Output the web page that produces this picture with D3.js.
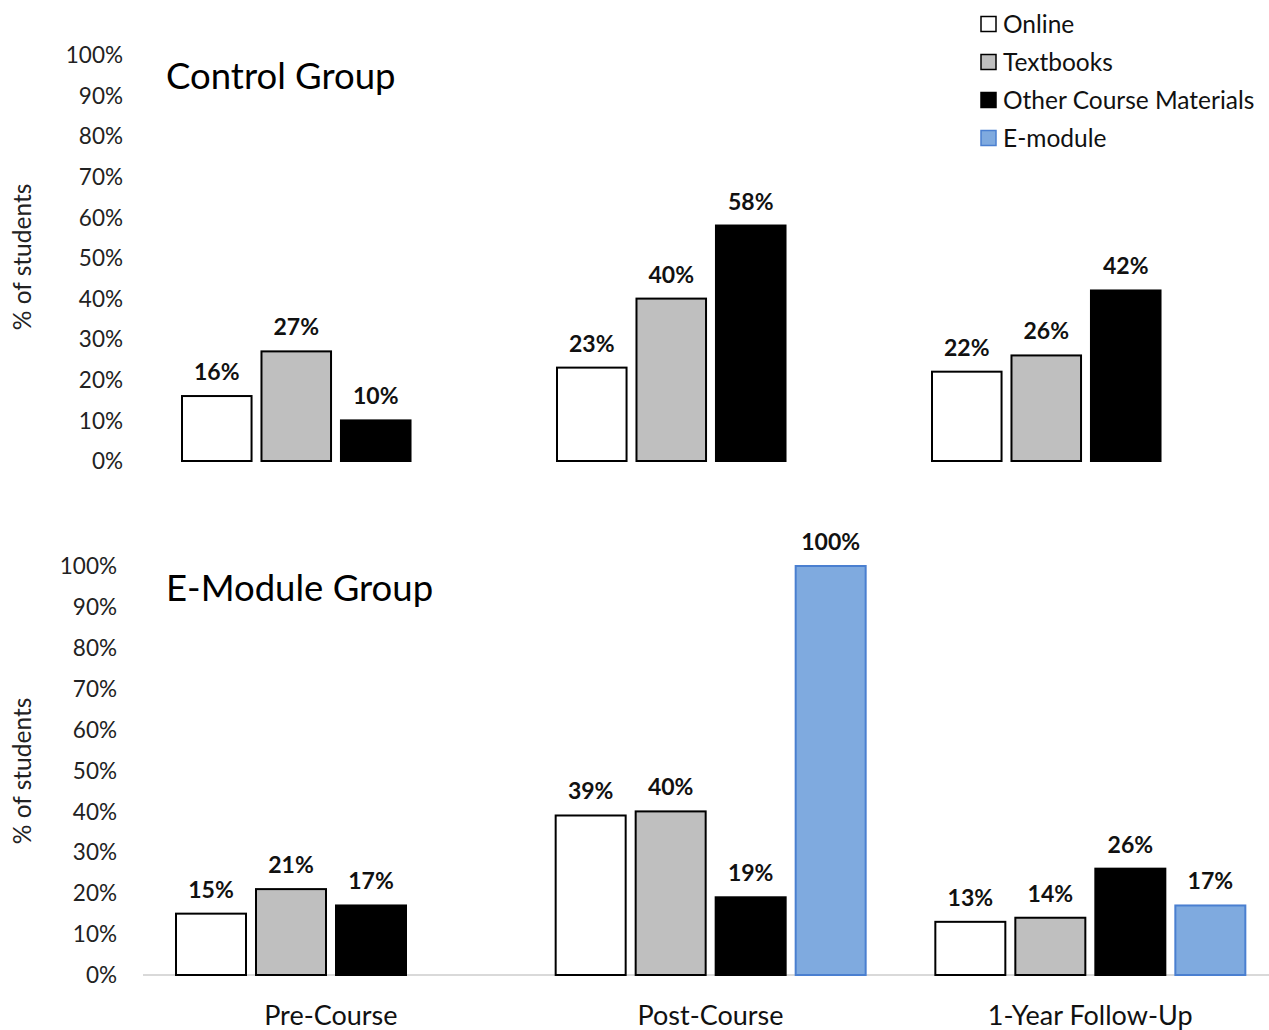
<!DOCTYPE html>
<html><head><meta charset="utf-8">
<script src="https://cdn.jsdelivr.net/npm/d3@7"></script>
<style>body{margin:0;background:#fff}svg{display:block}text{font-family:Lato,"Open Sans",sans-serif}</style>
</head><body><svg id="c" width="1269" height="1030"></svg>
<script>
const categories = ["Pre-Course", "Post-Course", "1-Year Follow-Up"];
const seriesNames = ["Online", "Textbooks", "Other Course Materials", "E-module"];
const controlOnline = [16, 23, 22];
const controlTextbooks = [27, 40, 26];
const controlOther = [10, 58, 42];
const emodOnline = [15, 39, 13];
const emodTextbooks = [21, 40, 14];
const emodOther = [17, 19, 26];
const emodEmodule = [null, 100, 17];
const yTicks = [0, 10, 20, 30, 40, 50, 60, 70, 80, 90, 100];
const fills = ["#ffffff", "#bfbfbf", "#000000", "#7faadf"];
const strokes = ["#000000", "#000000", "#000000", "#4a7fd0"];

const svg = d3.select("#c");

function panel(cfg) {
  const g = svg.append("g");
  const x = d3.scaleBand().domain(categories).range(cfg.xr);
  const sub = d3.scaleBand().domain(seriesNames).range([0, cfg.subW]).paddingInner(0.125).paddingOuter(0);
  const y = d3.scaleLinear().domain([0, 100]).range(cfg.yr);
  g.selectAll("text.tick").data(yTicks).join("text")
    .attr("x", cfg.tickX).attr("y", d => y(d)).attr("dy", "0.36em")
    .attr("text-anchor", "end").attr("font-size", 22.5).attr("fill", "#222")
    .text(d => d + "%");
  if (cfg.axisLine) {
    g.append("line").attr("x1", 143).attr("x2", 1269).attr("y1", y(0)).attr("y2", y(0))
      .attr("stroke", "#d9d9d9").attr("stroke-width", 2);
  }
  g.append("text").attr("transform", `translate(31,${cfg.ytY}) rotate(-90)`)
    .attr("text-anchor", "middle").attr("font-size", 24.5).attr("fill", "#222").text("% of students");
  g.append("text").attr("x", 166).attr("y", cfg.titleY).attr("font-size", 36.5).attr("fill", "#000").text(cfg.title);
  const data = [];
  cfg.series.forEach((arr, si) => {
    arr.forEach((v, ci) => { if (v != null) data.push({s: seriesNames[si], si, c: categories[ci], v}); });
  });
  g.selectAll("rect.bar").data(data).join("rect")
    .attr("x", d => x(d.c) + cfg.off + sub(d.s))
    .attr("y", d => y(d.v))
    .attr("width", sub.bandwidth())
    .attr("height", d => y(0) - y(d.v))
    .attr("fill", d => fills[d.si]).attr("stroke", d => strokes[d.si]).attr("stroke-width", 2);
  g.selectAll("text.val").data(data).join("text")
    .attr("x", d => x(d.c) + cfg.off + sub(d.s) + sub.bandwidth() / 2)
    .attr("y", d => y(d.v) - 16)
    .attr("text-anchor", "middle").attr("font-size", 23).attr("font-weight", "bold").attr("fill", "#111")
    .text(d => d.v + "%");
  if (cfg.catLabels) {
    g.selectAll("text.cat").data(categories).join("text")
      .attr("x", d => x(d) + x.bandwidth() / 2).attr("y", 1025)
      .attr("text-anchor", "middle").attr("font-size", 27).attr("fill", "#111").text(d => d);
  }
}

panel({xr: [147, 1272], subW: 308, off: 35, yr: [461, 55], tickX: 123, title: "Control Group", titleY: 89, ytY: 257,
  series: [controlOnline, controlTextbooks, controlOther], axisLine: false, catLabels: false});
panel({xr: [141, 1280], subW: 310, off: 35, yr: [975, 566], tickX: 117, title: "E-Module Group", titleY: 601, ytY: 771,
  series: [emodOnline, emodTextbooks, emodOther, emodEmodule], axisLine: true, catLabels: true});

const lg = svg.append("g");
const ly = d3.scalePoint().domain(seriesNames).range([24, 138]);
lg.selectAll("rect").data(seriesNames).join("rect")
  .attr("x", 981).attr("y", d => ly(d) - 7.5).attr("width", 15).attr("height", 15)
  .attr("fill", (d, i) => fills[i]).attr("stroke", (d, i) => strokes[i]).attr("stroke-width", 1.5);
lg.selectAll("text").data(seriesNames).join("text")
  .attr("x", 1003).attr("y", d => ly(d)).attr("dy", "0.36em")
  .attr("font-size", 24.5).attr("fill", "#111").text(d => d);
</script></body></html>
